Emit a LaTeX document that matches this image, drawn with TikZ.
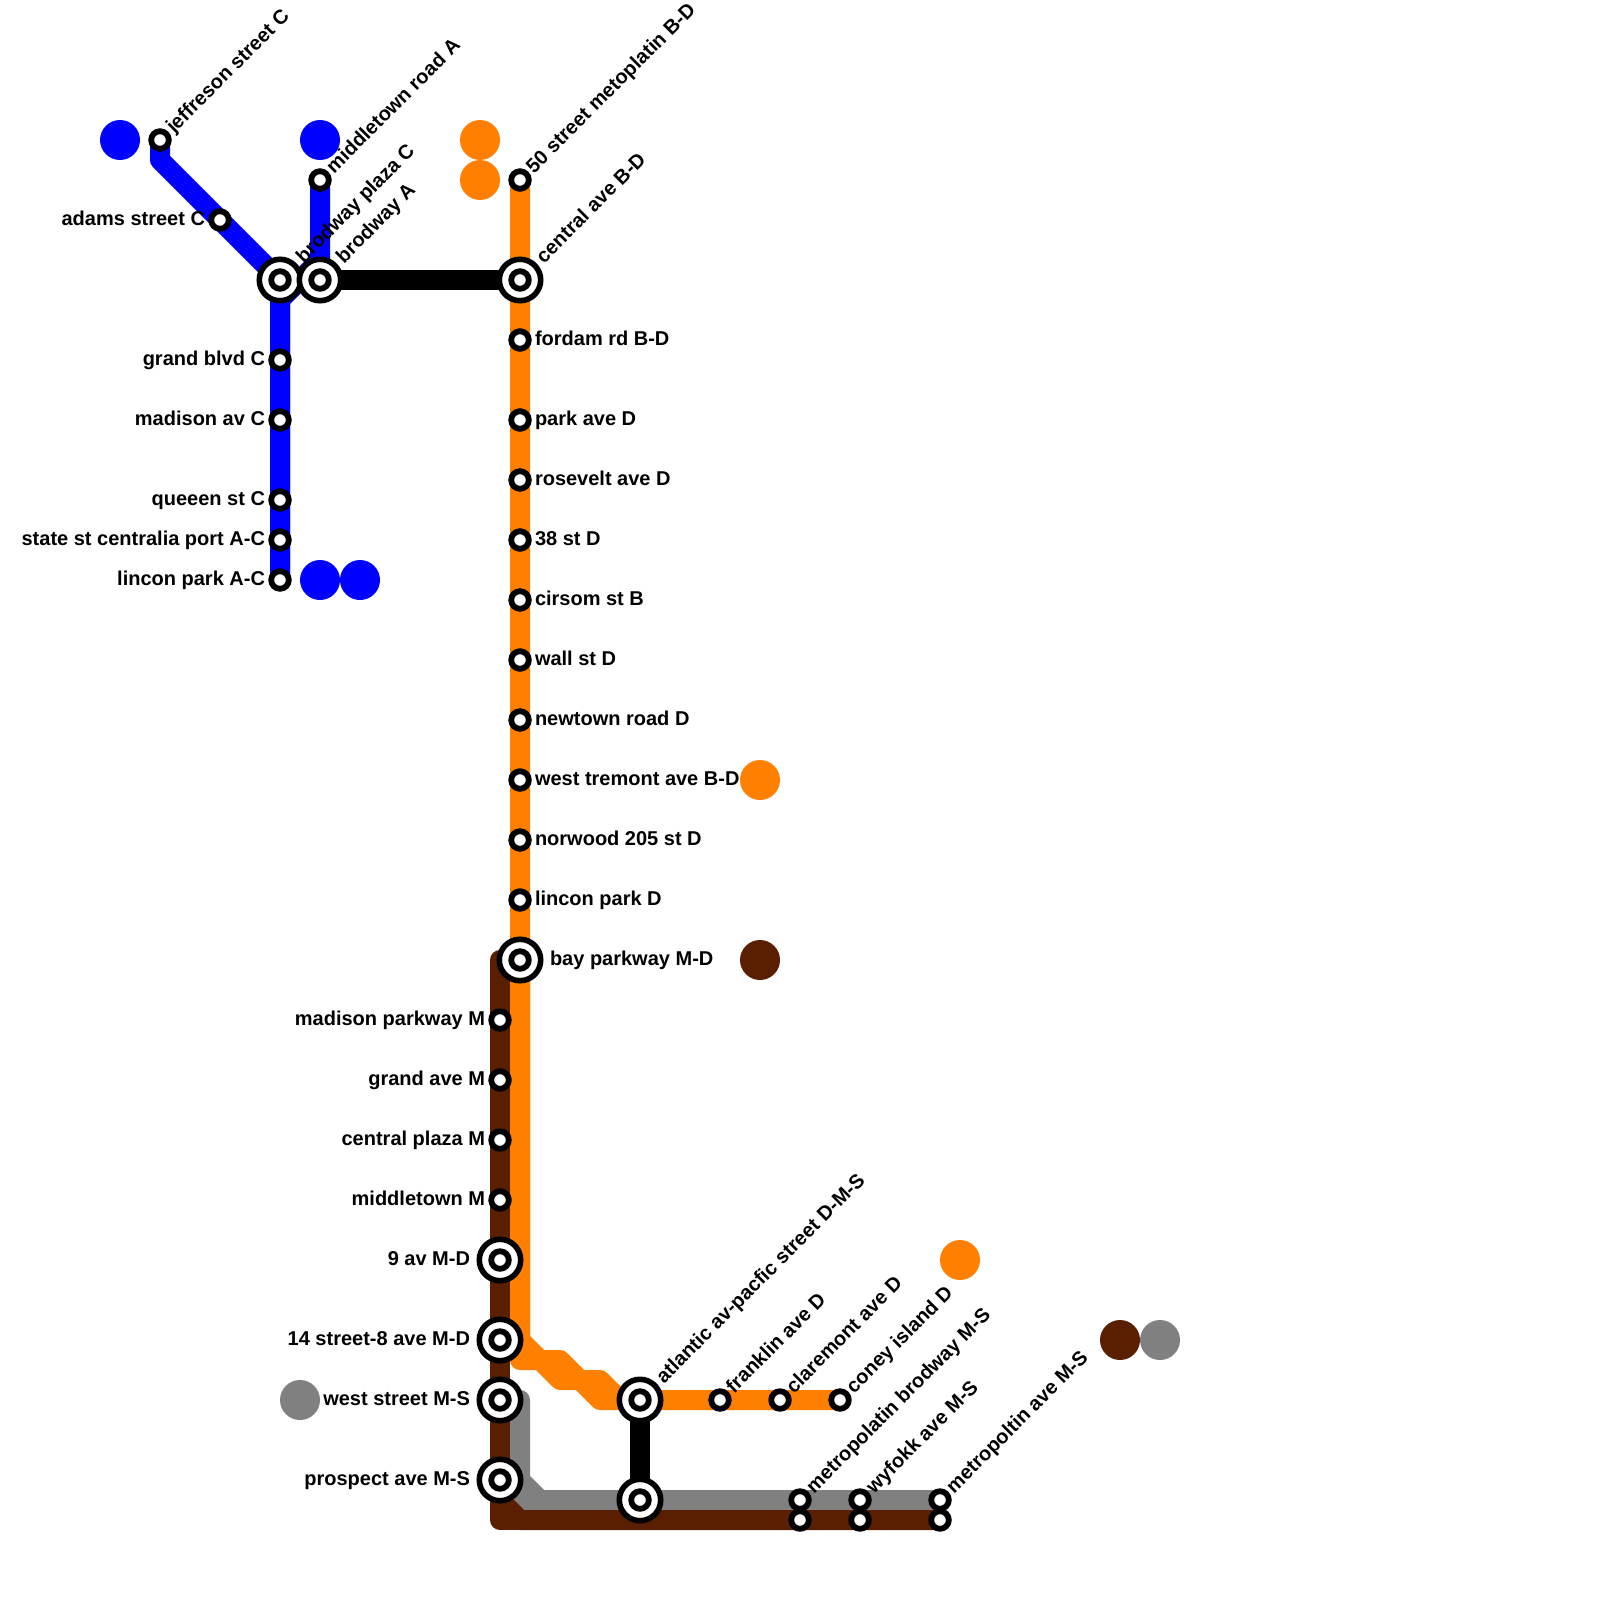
\documentclass[tikz,border=0pt]{standalone}
\usepackage{fontspec}
\setmainfont{Liberation Sans}
\usetikzlibrary{backgrounds}
\definecolor{lblue}{HTML}{0000FF}
\definecolor{lorange}{HTML}{FF8000}
\definecolor{lbrown}{HTML}{5A1E00}
\definecolor{lgrey}{HTML}{808080}
\tikzset{
  stn/.style={circle,draw=black,fill=white,line width=5.8pt,minimum size=17.6pt,inner sep=0pt,outer sep=0pt},
  hubring/.style={circle,draw=black,fill=white,line width=5.6pt,minimum size=41.4pt,inner sep=0pt,outer sep=0pt},
  blob/.style={circle,fill=#1,minimum size=40pt,inner sep=0pt,outer sep=0pt},
  track/.style={line width=20pt,line join=round,line cap=round,draw=#1},
  txt/.style={font=\fontsize{20}{24}\selectfont\bfseries,text=black,inner sep=0pt,outer sep=0pt},
  ll/.style={txt,anchor=base east},
  lr/.style={txt,anchor=base west},
  ld/.style={txt,anchor=base west,rotate=45},
}
\newcommand{\hubnode}[3]{\node[hubring] (#1) at (#2,#3) {}; \node[stn] (#1i) at (#2,#3) {};}
\begin{document}
\begin{tikzpicture}[x=1pt,y=-1pt]
\useasboundingbox (0,0) rectangle (1600,1600);
% waypoints
\coordinate (c1) at (160,160);
\coordinate (a1) at (320,260);
\coordinate (a2) at (280,300);
\coordinate (o1) at (520,1340);
\coordinate (o2) at (540,1360);
\coordinate (o3) at (560,1360);
\coordinate (o4) at (580,1380);
\coordinate (o5) at (600,1380);
\coordinate (o6) at (620,1400);
\coordinate (p1) at (520,1360);
\coordinate (p3) at (560,1380);
\coordinate (p5) at (600,1400);
\coordinate (g0) at (520,1400);
\coordinate (g1) at (520,1480);
\coordinate (g2) at (540,1500);
\coordinate (g3) at (500,1480);
\coordinate (g4) at (520,1500);
\coordinate (b0) at (500,960);
\coordinate (b1) at (500,1520);
\coordinate (b2) at (500,1500);
\coordinate (b3) at (520,1520);
% blobs
\node[blob=lblue] (bl1) at (120,140) {};
\node[blob=lblue] (bl2) at (320,140) {};
\node[blob=lblue] (bl3) at (320,580) {};
\node[blob=lblue] (bl4) at (360,580) {};
\node[blob=lorange] (or1) at (480,140) {};
\node[blob=lorange] (or2) at (480,180) {};
\node[blob=lorange] (or3) at (760,780) {};
\node[blob=lorange] (or4) at (960,1260) {};
\node[blob=lbrown] (br1) at (760,960) {};
\node[blob=lbrown] (br2) at (1120,1340) {};
\node[blob=lgrey] (gr1) at (1160,1340) {};
\node[blob=lgrey] (gr2) at (300,1400) {};
% stations
\node[stn] (jeff) at (160,140) {};
\node[stn] (adams) at (220,220) {};
\node[stn] (midtop) at (320,180) {};
\hubnode{plaza}{280}{280}
\hubnode{brod}{320}{280}
\hubnode{central}{520}{280}
\node[stn] (grand) at (280,360) {};
\node[stn] (madav) at (280,420) {};
\node[stn] (queen) at (280,500) {};
\node[stn] (state) at (280,540) {};
\node[stn] (linA) at (280,580) {};
\node[stn] (fifty) at (520,180) {};
\node[stn] (fordam) at (520,340) {};
\node[stn] (park) at (520,420) {};
\node[stn] (rose) at (520,480) {};
\node[stn] (st38) at (520,540) {};
\node[stn] (cirsom) at (520,600) {};
\node[stn] (wall) at (520,660) {};
\node[stn] (newtown) at (520,720) {};
\node[stn] (tremont) at (520,780) {};
\node[stn] (norwood) at (520,840) {};
\node[stn] (linD) at (520,900) {};
\hubnode{bay}{520}{960}
\node[stn] (madpk) at (500,1020) {};
\node[stn] (grandM) at (500,1080) {};
\node[stn] (cplaza) at (500,1140) {};
\node[stn] (midM) at (500,1200) {};
\hubnode{nine}{500}{1260}
\hubnode{fourteen}{500}{1340}
\hubnode{west}{500}{1400}
\hubnode{prospect}{500}{1480}
\hubnode{atlantic}{640}{1400}
\hubnode{atlanticS}{640}{1500}
\node[stn] (franklin) at (720,1400) {};
\node[stn] (clare) at (780,1400) {};
\node[stn] (coney) at (840,1400) {};
\node[stn] (brodS) at (800,1500) {};
\node[stn] (brodM) at (800,1520) {};
\node[stn] (wyfS) at (860,1500) {};
\node[stn] (wyfM) at (860,1520) {};
\node[stn] (metS) at (940,1500) {};
\node[stn] (metM) at (940,1520) {};
% tracks
\begin{pgfonlayer}{background}
\draw[track=lgrey] (g0) -- (g1) -- (g2) -- (metS.center);
\draw[track=lgrey] (g3) -- (g4) -- (metS.center);
\draw[track=lbrown] (b0) -- (b1) -- (metM.center);
\draw[track=lbrown] (b2) -- (b3) -- (metM.center);
\draw[track=lblue] (jeff.center) -- (c1) -- (plaza.center) -- (linA.center);
\draw[track=lblue] (midtop.center) -- (a1) -- (a2) -- (linA.center);
\draw[track=lorange] (fifty.center) -- (o1) -- (o2) -- (o3) -- (o4) -- (o5) -- (o6) -- (coney.center);
\draw[track=lorange] (bay.center) -- (p1) -- (o2) -- (p3) -- (o4) -- (p5) -- (atlantic.center);
\draw[track=black] (brod.center) -- (central.center);
\draw[track=black] (atlantic.center) -- (atlanticS.center);
\end{pgfonlayer}
% labels
\node[ld] (t1) at (174,134) {jeffreson street C};
\node[ll] (t2) at (205,225) {adams street C};
\node[ld] (t3) at (334,174) {middletown road A};
\node[ld] (t4) at (304,264) {brodway plaza C};
\node[ld] (t5) at (344,264) {brodway A};
\node[ld] (t6) at (534,174) {50 street metoplatin B-D};
\node[ld] (t7) at (544,264) {central ave B-D};
\node[ll] (t8) at (265,365) {grand blvd C};
\node[ll] (t9) at (265,425) {madison av C};
\node[ll] (t10) at (265,505) {queeen st C};
\node[ll] (t11) at (265,545) {state st centralia port A-C};
\node[ll] (t12) at (265,585) {lincon park A-C};
\node[lr] (t13) at (535,345) {fordam rd B-D};
\node[lr] (t14) at (535,425) {park ave D};
\node[lr] (t15) at (535,485) {rosevelt ave D};
\node[lr] (t16) at (535,545) {38 st D};
\node[lr] (t17) at (535,605) {cirsom st B};
\node[lr] (t18) at (535,665) {wall st D};
\node[lr] (t19) at (535,725) {newtown road D};
\node[lr] (t20) at (535,785) {west tremont ave B-D};
\node[lr] (t21) at (535,845) {norwood 205 st D};
\node[lr] (t22) at (535,905) {lincon park D};
\node[lr] (t23) at (550,965) {bay parkway M-D};
\node[ll] (t24) at (485,1025) {madison parkway M};
\node[ll] (t25) at (485,1085) {grand ave M};
\node[ll] (t26) at (485,1145) {central plaza M};
\node[ll] (t27) at (485,1205) {middletown M};
\node[ll] (t28) at (470,1265) {9 av M-D};
\node[ll] (t29) at (470,1345) {14 street-8 ave M-D};
\node[ll] (t30) at (470,1405) {west street M-S};
\node[ll] (t31) at (470,1485) {prospect ave M-S};
\node[ld] (t32) at (664,1384) {atlantic av-pacfic street D-M-S};
\node[ld] (t33) at (734,1394) {franklin ave D};
\node[ld] (t34) at (794,1394) {claremont ave D};
\node[ld] (t35) at (854,1394) {coney island D};
\node[ld] (t36) at (814,1494) {metropolatin brodway M-S};
\node[ld] (t37) at (874,1494) {wyfokk ave M-S};
\node[ld] (t38) at (954,1494) {metropoltin ave M-S};
\end{tikzpicture}
\end{document}
